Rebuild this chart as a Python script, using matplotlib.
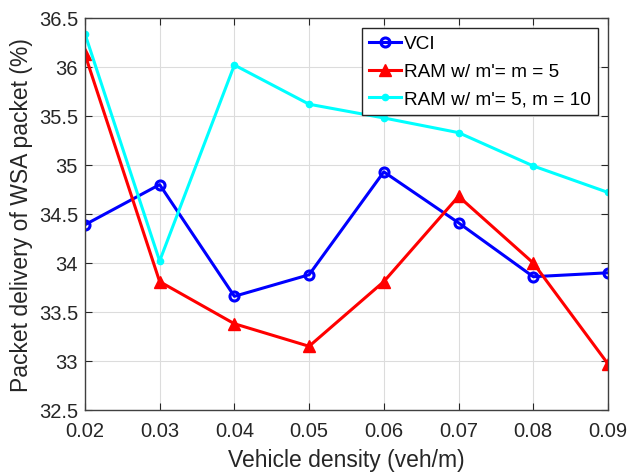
import matplotlib.pyplot as plt
import numpy as np

plt.rcParams['font.family'] = ['Liberation Sans', 'DejaVu Sans']

density = [0.02, 0.03, 0.04, 0.05, 0.06, 0.07, 0.08, 0.09]
vci = [34.39, 34.80, 33.66, 33.88, 34.93, 34.41, 33.86, 33.90]
ram_m5 = [36.13, 33.81, 33.38, 33.15, 33.81, 34.68, 34.00, 32.97]
ram_m10 = [36.34, 34.02, 36.02, 35.62, 35.48, 35.33, 34.99, 34.72]

fig = plt.figure(figsize=(6.29, 4.77), dpi=100)
ax = fig.add_axes([0.135, 0.1384, 0.8316, 0.8218])

ax.plot(density, vci, color='blue', lw=2.2, marker='o', ms=6.5, mfc='none', mew=2.2, label='VCI')
ax.plot(density, ram_m5, color='red', lw=2.2, marker='^', ms=9, label="RAM w/ m'= m = 5")
ax.plot(density, ram_m10, color='cyan', lw=2.2, marker='o', ms=4.5, label="RAM w/ m'= 5, m = 10")

ax.set_xlim(0.02, 0.09)
ax.set_ylim(32.5, 36.5)
ax.set_xticks(density)
ax.set_xticklabels(['0.02', '0.03', '0.04', '0.05', '0.06', '0.07', '0.08', '0.09'])
ax.set_yticks(np.arange(32.5, 36.51, 0.5))
ax.set_yticklabels(['32.5', '33', '33.5', '34', '34.5', '35', '35.5', '36', '36.5'])
ax.grid(True, color='#dcdcdc', lw=0.8)
ax.set_axisbelow(True)
ax.tick_params(direction='in', top=True, right=True, labelsize=14.5, colors='#262626', length=5)
ax.tick_params(axis='x', pad=8)
ax.tick_params(axis='y', pad=5)
for s in ax.spines.values():
    s.set_color('#404040')
    s.set_linewidth(1.0)

ax.set_xlabel('Vehicle density (veh/m)', fontsize=16.5, color='#262626', labelpad=6)
ax.set_ylabel('Packet delivery of WSA packet (%)', fontsize=16.5, color='#262626', labelpad=4)

leg = ax.legend(loc='upper right', fontsize=13.7, fancybox=False, framealpha=1,
                edgecolor='#262626', handlelength=1.7, handletextpad=0.15,
                borderpad=0.35, labelspacing=0.55, borderaxespad=0.55)
leg.get_frame().set_linewidth(1.0)

fig.savefig('out.png', dpi=100)
